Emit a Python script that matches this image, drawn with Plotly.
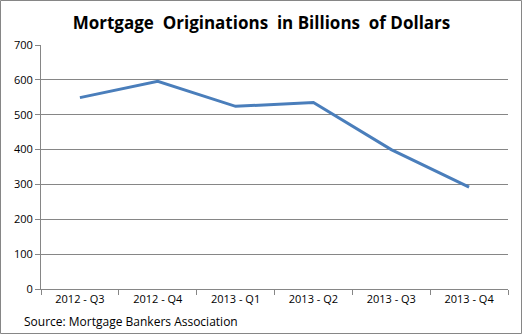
import plotly.graph_objects as go

quarters = ["2012 - Q3", "2012 - Q4", "2013 - Q1", "2013 - Q2", "2013 - Q3", "2013 - Q4"]
originations = [549, 596, 524, 535, 400, 292]
y_ticks = [0, 100, 200, 300, 400, 500, 600, 700]

W, H = 523, 335
ML, MR, MT, MB = 41, 15, 45, 46
pw, ph = W - ML - MR, H - MT - MB

fig = go.Figure()
fig.add_trace(go.Scatter(x=quarters, y=originations, mode="lines",
                         line=dict(color="#4a7ebb", width=3)))

gray = "#868686"
fig.update_layout(
    width=W, height=H,
    margin=dict(l=ML, r=MR, t=MT, b=MB),
    paper_bgcolor="white", plot_bgcolor="white",
    showlegend=False,
    font=dict(family="Open Sans, Liberation Sans, sans-serif", size=11, color="black"),
    title=dict(text="<b>Mortgage  Originations  in Billions  of Dollars</b>",
               x=0.5, xanchor="center", y=1 - 23 / H, yanchor="middle",
               font=dict(size=17, family="Open Sans, Liberation Sans, sans-serif", color="black")),
    xaxis=dict(type="category", range=[-0.5, len(quarters) - 0.5],
               showline=True, linecolor=gray, linewidth=1, ticks="outside",
               tickson="boundaries", ticklen=5, tickcolor=gray, showgrid=False,
               tickfont=dict(size=11)),
    yaxis=dict(range=[0, 700], tickvals=y_ticks, showline=True, linecolor=gray,
               linewidth=1, ticks="outside", ticklen=5, tickcolor=gray,
               showgrid=True, gridcolor=gray, gridwidth=1, zeroline=False,
               tickfont=dict(size=11)),
    shapes=[dict(type="rect", xref="paper", yref="paper",
                 x0=-(ML - 0.5) / pw, x1=1 + (MR - 1.5) / pw,
                 y0=-(MB - 1.5) / ph, y1=1 + (MT - 0.5) / ph,
                 line=dict(color=gray, width=1))],
    annotations=[dict(text="Source: Mortgage Bankers Association", xref="paper", yref="paper",
                      x=-(ML - 22) / pw, y=-(321 - MT - ph) / ph, xanchor="left", yanchor="middle",
                      showarrow=False, font=dict(size=12))],
)

fig.write_html("out.html")
